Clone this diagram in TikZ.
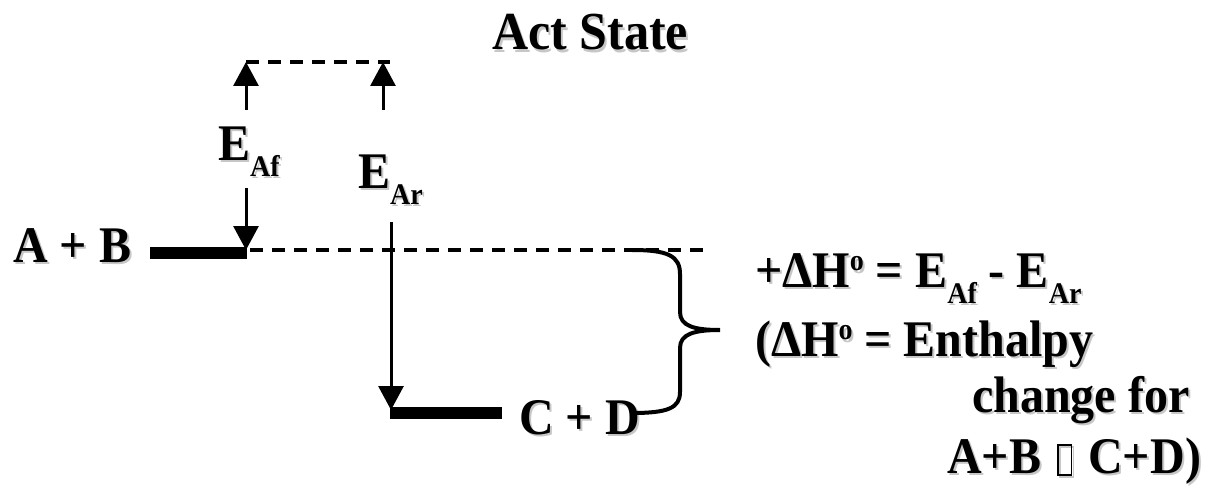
\documentclass[tikz,border=0pt]{standalone}
\usepackage{fontspec}
\usepackage{graphicx}
\setmainfont{Liberation Serif}
\usetikzlibrary{arrows.meta}
\newcommand{\shd}[1]{\scalebox{1}[1.07]{\makebox[0pt][l]{\kern2pt\raisebox{-2pt}{\textcolor{black!22}{#1}}}#1}}
\newcommand{\sbs}[1]{\raisebox{-15pt}{\fontsize{28}{30}\selectfont #1}}
\newcommand{\spo}{\raisebox{15pt}{\fontsize{28}{30}\selectfont o}}
\newcommand{\tofu}{\kern4pt\lower3pt\hbox{\vrule width 1.8pt height 30pt\vbox to 30pt{\hrule height 1.8pt width 11.5pt\vfill\hrule height 1.8pt width 11.5pt}\vrule width 1.8pt height 30pt}\kern4pt}
\begin{document}
\begin{tikzpicture}[x=1pt,y=-1pt,
  txt/.style={inner sep=0pt,anchor=base west,font=\fontsize{48}{58}\selectfont\bfseries},
  ttl/.style={inner sep=0pt,anchor=base,font=\fontsize{50}{60}\selectfont\bfseries},
  arr/.style={line width=3pt,-{Triangle[width=25pt,length=24pt]}},
  dsh/.style={line width=3.5pt,dash pattern=on 13pt off 9pt},
  bar/.style={line width=12pt},
  brc/.style={line width=4pt,line cap=round}]
\useasboundingbox (0,0) rectangle (1213,487);
% texts
\node[ttl] (title) at (590,50) {\shd{Act State}};
\node[txt] (ab) at (13,262) {\shd{A + B}};
\node[txt] (cd) at (519,434) {\shd{C + D}};
\node[txt] (eaf) at (218,160) {\shd{E\sbs{Af}}};
\node[txt] (ear) at (358,188) {\shd{E\sbs{Ar}}};
\node[txt] (l1) at (755,287) {\shd{+ΔH\spo{} = E\sbs{Af} - E\sbs{Ar}}};
\node[txt] (l2) at (755,356) {\shd{(ΔH\spo{} = Enthalpy}};
\node[txt] (l3) at (972,412) {\shd{change for}};
\node[txt] (l4) at (947,473) {\shd{A+B \tofu{} C+D)}};
% coordinates
\coordinate (tl) at (246,62);
\coordinate (tr) at (390,62);
\coordinate (ul) at (246,110);
\coordinate (ur) at (383,110);
\coordinate (urt) at (383,62);
\coordinate (dl) at (246,188);
\coordinate (dlt) at (246,250);
\coordinate (abs) at (150,253);
\coordinate (abe) at (247,253);
\coordinate (ms) at (250,250);
\coordinate (me) at (705,250);
\coordinate (dr) at (391,222);
\coordinate (drt) at (391,410);
\coordinate (cds) at (390,413);
\coordinate (cde) at (502,413);
\coordinate (bt) at (632,250);
\coordinate (bm) at (720,330);
\coordinate (bb) at (632,413);
% levels
\draw[dsh] (tl) -- (tr);
\draw[dsh] (ms) -- (me);
\draw[bar] (abs) -- (abe);
\draw[bar] (cds) -- (cde);
% arrows
\draw[arr] (ul) -- (tl);
\draw[arr] (ur) -- (urt);
\draw[arr] (dl) -- (dlt);
\draw[arr] (dr) -- (drt);
% brace
\draw[brc] (bt) .. controls (668,250) and (680,256) .. (680,274) -- (680,312)
  .. controls (680,326) and (694,330) .. (bm)
  .. controls (694,330) and (680,334) .. (680,348) -- (680,392)
  .. controls (680,408) and (668,413) .. (bb);
\end{tikzpicture}
\end{document}
